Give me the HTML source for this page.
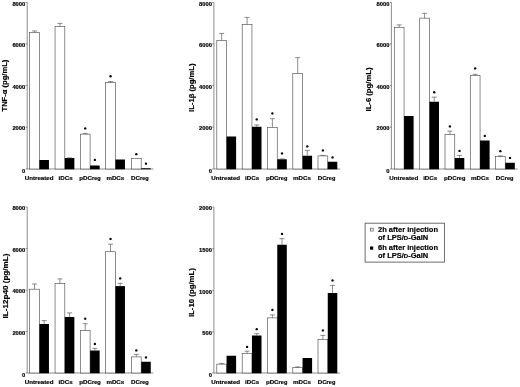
<!DOCTYPE html>
<html><head><meta charset="utf-8"><title>Cytokine levels</title>
<style>
html,body{margin:0;padding:0;background:#fff;}
body{width:520px;height:387px;overflow:hidden;}
svg{display:block;filter:blur(0.2px);font-family:"Liberation Sans",sans-serif;fill:#000;} text{stroke:#000;stroke-width:0.18px;}
</style></head><body>
<svg width="520" height="387" viewBox="0 0 520 387">
<rect width="520" height="387" fill="#fff"/>
<path d="M27.2,2.5 V169.0 H153.4" fill="none" stroke="#505050" stroke-width="0.65"/>
<path d="M25.599999999999998,2.5 H27.2" stroke="#505050" stroke-width="0.65"/>
<text x="25.3" y="5.75" text-anchor="end" font-size="5.8" font-weight="bold" stroke="none">8000</text>
<path d="M25.599999999999998,43.8 H27.2" stroke="#505050" stroke-width="0.65"/>
<text x="25.3" y="47.05" text-anchor="end" font-size="5.8" font-weight="bold" stroke="none">6000</text>
<path d="M25.599999999999998,85.6 H27.2" stroke="#505050" stroke-width="0.65"/>
<text x="25.3" y="88.85" text-anchor="end" font-size="5.8" font-weight="bold" stroke="none">4000</text>
<path d="M25.599999999999998,127.2 H27.2" stroke="#505050" stroke-width="0.65"/>
<text x="25.3" y="130.45" text-anchor="end" font-size="5.8" font-weight="bold" stroke="none">2000</text>
<path d="M25.599999999999998,169 H27.2" stroke="#505050" stroke-width="0.65"/>
<text x="25.3" y="172.6" text-anchor="end" font-size="5.8" font-weight="bold" stroke="none">0</text>
<text transform="translate(6.799999999999998,111.5) rotate(-90)" textLength="51.8" lengthAdjust="spacingAndGlyphs" font-size="7.6" font-weight="bold" stroke="none">TNF-α (pg/mL)</text>
<rect x="29.65" y="32.4" width="9.75" height="136.60" fill="#fff" stroke="#505050" stroke-width="0.65"/>
<path d="M34.52,32.4 V30.9 M32.02,30.9 H37.02" stroke="#505050" stroke-width="0.65" fill="none"/>
<rect x="39.40" y="160" width="9.55" height="9.30" fill="#000"/>
<rect x="55.05" y="26.4" width="9.75" height="142.60" fill="#fff" stroke="#505050" stroke-width="0.65"/>
<path d="M59.92,26.4 V23.4 M57.42,23.4 H62.42" stroke="#505050" stroke-width="0.65" fill="none"/>
<rect x="64.80" y="158" width="9.55" height="11.30" fill="#000"/>
<path d="M69.58,158 V157.9 M67.08,157.9 H72.08" stroke="#505050" stroke-width="0.65" fill="none"/>
<rect x="80.35" y="134.15" width="9.75" height="34.85" fill="#fff" stroke="#505050" stroke-width="0.65"/>
<path d="M85.22,134.15 V133.4 M82.72,133.4 H87.72" stroke="#505050" stroke-width="0.65" fill="none"/>
<circle cx="85.22" cy="128.4" r="1.18" fill="#000"/>
<rect x="90.10" y="165.5" width="9.55" height="3.80" fill="#000"/>
<circle cx="94.88" cy="159.9" r="1.18" fill="#000"/>
<rect x="105.65" y="82.60000000000001" width="9.75" height="86.40" fill="#fff" stroke="#505050" stroke-width="0.65"/>
<path d="M110.53,82.60000000000001 V81.60000000000001 M108.03,81.60000000000001 H113.03" stroke="#505050" stroke-width="0.65" fill="none"/>
<circle cx="110.53" cy="76.2" r="1.18" fill="#000"/>
<rect x="115.40" y="159.5" width="9.55" height="9.80" fill="#000"/>
<rect x="131.45" y="158.4" width="9.75" height="10.60" fill="#fff" stroke="#505050" stroke-width="0.65"/>
<circle cx="136.32" cy="154.15" r="1.18" fill="#000"/>
<rect x="141.20" y="168.25" width="9.55" height="1.05" fill="#000"/>
<circle cx="145.97" cy="163.65" r="1.18" fill="#000"/>
<text x="39.15" y="179.8" text-anchor="middle" font-size="6.2" font-weight="bold">Untreated</text>
<text x="65.55" y="179.8" text-anchor="middle" font-size="6.2" font-weight="bold">iDCs</text>
<text x="90.05" y="179.8" text-anchor="middle" font-size="6.2" font-weight="bold">pDC<tspan font-size="5.6">reg</tspan></text>
<text x="115.35" y="179.8" text-anchor="middle" font-size="6.2" font-weight="bold">mDCs</text>
<text x="139.95" y="179.8" text-anchor="middle" font-size="6.2" font-weight="bold">DC<tspan font-size="5.6">reg</tspan></text>
<path d="M213.9,2.5 V169.0 H340.1" fill="none" stroke="#505050" stroke-width="0.65"/>
<path d="M212.3,2.5 H213.9" stroke="#505050" stroke-width="0.65"/>
<text x="212.0" y="5.75" text-anchor="end" font-size="5.8" font-weight="bold" stroke="none">8000</text>
<path d="M212.3,43.8 H213.9" stroke="#505050" stroke-width="0.65"/>
<text x="212.0" y="47.05" text-anchor="end" font-size="5.8" font-weight="bold" stroke="none">6000</text>
<path d="M212.3,85.6 H213.9" stroke="#505050" stroke-width="0.65"/>
<text x="212.0" y="88.85" text-anchor="end" font-size="5.8" font-weight="bold" stroke="none">4000</text>
<path d="M212.3,127.2 H213.9" stroke="#505050" stroke-width="0.65"/>
<text x="212.0" y="130.45" text-anchor="end" font-size="5.8" font-weight="bold" stroke="none">2000</text>
<path d="M212.3,169 H213.9" stroke="#505050" stroke-width="0.65"/>
<text x="212.0" y="172.6" text-anchor="end" font-size="5.8" font-weight="bold" stroke="none">0</text>
<text transform="translate(193.8,111.9) rotate(-90)" textLength="48.4" lengthAdjust="spacingAndGlyphs" font-size="7.6" font-weight="bold" stroke="none">IL-1β (pg/mL)</text>
<rect x="216.80" y="40.4" width="9.75" height="128.60" fill="#fff" stroke="#505050" stroke-width="0.65"/>
<path d="M221.68,40.4 V33.4 M219.18,33.4 H224.18" stroke="#505050" stroke-width="0.65" fill="none"/>
<rect x="226.55" y="136.5" width="9.55" height="32.80" fill="#000"/>
<rect x="242.20" y="24.4" width="9.75" height="144.60" fill="#fff" stroke="#505050" stroke-width="0.65"/>
<path d="M247.08,24.4 V17.4 M244.58,17.4 H249.58" stroke="#505050" stroke-width="0.65" fill="none"/>
<rect x="251.95" y="126.75" width="9.55" height="42.55" fill="#000"/>
<path d="M256.73,126.75 V124.9 M254.23,124.9 H259.23" stroke="#505050" stroke-width="0.65" fill="none"/>
<circle cx="256.73" cy="119.4" r="1.18" fill="#000"/>
<rect x="267.50" y="127.4" width="9.75" height="41.60" fill="#fff" stroke="#505050" stroke-width="0.65"/>
<path d="M272.38,127.4 V118.65 M269.88,118.65 H274.88" stroke="#505050" stroke-width="0.65" fill="none"/>
<circle cx="272.38" cy="113.4" r="1.18" fill="#000"/>
<rect x="277.25" y="159.25" width="9.55" height="10.05" fill="#000"/>
<path d="M282.02,159.25 V158.9 M279.52,158.9 H284.52" stroke="#505050" stroke-width="0.65" fill="none"/>
<circle cx="282.02" cy="153.4" r="1.18" fill="#000"/>
<rect x="292.80" y="73.4" width="9.75" height="95.60" fill="#fff" stroke="#505050" stroke-width="0.65"/>
<path d="M297.68,73.4 V57.65 M295.18,57.65 H300.18" stroke="#505050" stroke-width="0.65" fill="none"/>
<rect x="302.55" y="155.75" width="9.55" height="13.55" fill="#000"/>
<path d="M307.32,155.75 V150.4 M304.82,150.4 H309.82" stroke="#505050" stroke-width="0.65" fill="none"/>
<circle cx="307.32" cy="146.4" r="1.18" fill="#000"/>
<rect x="318.00" y="155.9" width="9.75" height="13.10" fill="#fff" stroke="#505050" stroke-width="0.65"/>
<path d="M322.88,155.9 V155.4 M320.38,155.4 H325.38" stroke="#505050" stroke-width="0.65" fill="none"/>
<circle cx="322.88" cy="150.4" r="1.18" fill="#000"/>
<rect x="327.75" y="161.75" width="9.55" height="7.55" fill="#000"/>
<circle cx="332.52" cy="157.4" r="1.18" fill="#000"/>
<text x="225.70" y="179.8" text-anchor="middle" font-size="6.2" font-weight="bold">Untreated</text>
<text x="252.10" y="179.8" text-anchor="middle" font-size="6.2" font-weight="bold">iDCs</text>
<text x="276.60" y="179.8" text-anchor="middle" font-size="6.2" font-weight="bold">pDC<tspan font-size="5.6">reg</tspan></text>
<text x="301.90" y="179.8" text-anchor="middle" font-size="6.2" font-weight="bold">mDCs</text>
<text x="326.50" y="179.8" text-anchor="middle" font-size="6.2" font-weight="bold">DC<tspan font-size="5.6">reg</tspan></text>
<path d="M391.4,2.5 V169.0 H517.6" fill="none" stroke="#505050" stroke-width="0.65"/>
<path d="M389.79999999999995,2.5 H391.4" stroke="#505050" stroke-width="0.65"/>
<text x="389.5" y="5.75" text-anchor="end" font-size="5.8" font-weight="bold" stroke="none">8000</text>
<path d="M389.79999999999995,43.8 H391.4" stroke="#505050" stroke-width="0.65"/>
<text x="389.5" y="47.05" text-anchor="end" font-size="5.8" font-weight="bold" stroke="none">6000</text>
<path d="M389.79999999999995,85.6 H391.4" stroke="#505050" stroke-width="0.65"/>
<text x="389.5" y="88.85" text-anchor="end" font-size="5.8" font-weight="bold" stroke="none">4000</text>
<path d="M389.79999999999995,127.2 H391.4" stroke="#505050" stroke-width="0.65"/>
<text x="389.5" y="130.45" text-anchor="end" font-size="5.8" font-weight="bold" stroke="none">2000</text>
<path d="M389.79999999999995,169 H391.4" stroke="#505050" stroke-width="0.65"/>
<text x="389.5" y="172.6" text-anchor="end" font-size="5.8" font-weight="bold" stroke="none">0</text>
<text transform="translate(371.29999999999995,111.5) rotate(-90)" textLength="44.0" lengthAdjust="spacingAndGlyphs" font-size="7.6" font-weight="bold" stroke="none">IL-6 (pg/mL)</text>
<rect x="394.30" y="27.4" width="9.75" height="141.60" fill="#fff" stroke="#505050" stroke-width="0.65"/>
<path d="M399.17,27.4 V24.9 M396.67,24.9 H401.67" stroke="#505050" stroke-width="0.65" fill="none"/>
<rect x="404.05" y="116" width="9.55" height="53.30" fill="#000"/>
<rect x="419.70" y="18.15" width="9.75" height="150.85" fill="#fff" stroke="#505050" stroke-width="0.65"/>
<path d="M424.57,18.15 V13.4 M422.07,13.4 H427.07" stroke="#505050" stroke-width="0.65" fill="none"/>
<rect x="429.45" y="101.75" width="9.55" height="67.55" fill="#000"/>
<path d="M434.22,101.75 V97.15 M431.72,97.15 H436.72" stroke="#505050" stroke-width="0.65" fill="none"/>
<circle cx="434.22" cy="92.2" r="1.18" fill="#000"/>
<rect x="445.00" y="134.4" width="9.75" height="34.60" fill="#fff" stroke="#505050" stroke-width="0.65"/>
<path d="M449.88,134.4 V131.15 M447.38,131.15 H452.38" stroke="#505050" stroke-width="0.65" fill="none"/>
<circle cx="449.88" cy="126.4" r="1.18" fill="#000"/>
<rect x="454.75" y="158" width="9.55" height="11.30" fill="#000"/>
<path d="M459.52,158 V155.4 M457.02,155.4 H462.02" stroke="#505050" stroke-width="0.65" fill="none"/>
<circle cx="459.52" cy="150.9" r="1.18" fill="#000"/>
<rect x="470.30" y="75.4" width="9.75" height="93.60" fill="#fff" stroke="#505050" stroke-width="0.65"/>
<path d="M475.17,75.4 V74.30000000000001 M472.67,74.30000000000001 H477.67" stroke="#505050" stroke-width="0.65" fill="none"/>
<circle cx="475.17" cy="68.4" r="1.18" fill="#000"/>
<rect x="480.05" y="140.5" width="9.55" height="28.80" fill="#000"/>
<circle cx="484.82" cy="135.9" r="1.18" fill="#000"/>
<rect x="495.50" y="156.65" width="9.75" height="12.35" fill="#fff" stroke="#505050" stroke-width="0.65"/>
<path d="M500.38,156.65 V155.9 M497.88,155.9 H502.88" stroke="#505050" stroke-width="0.65" fill="none"/>
<circle cx="500.38" cy="151.15" r="1.18" fill="#000"/>
<rect x="505.25" y="162.75" width="9.55" height="6.55" fill="#000"/>
<circle cx="510.02" cy="157.9" r="1.18" fill="#000"/>
<text x="403.80" y="179.8" text-anchor="middle" font-size="6.2" font-weight="bold">Untreated</text>
<text x="430.20" y="179.8" text-anchor="middle" font-size="6.2" font-weight="bold">iDCs</text>
<text x="454.70" y="179.8" text-anchor="middle" font-size="6.2" font-weight="bold">pDC<tspan font-size="5.6">reg</tspan></text>
<text x="480.00" y="179.8" text-anchor="middle" font-size="6.2" font-weight="bold">mDCs</text>
<text x="504.60" y="179.8" text-anchor="middle" font-size="6.2" font-weight="bold">DC<tspan font-size="5.6">reg</tspan></text>
<path d="M27.2,207 V373.0 H153.4" fill="none" stroke="#505050" stroke-width="0.65"/>
<path d="M25.599999999999998,207 H27.2" stroke="#505050" stroke-width="0.65"/>
<text x="25.3" y="210.25" text-anchor="end" font-size="5.8" font-weight="bold" stroke="none">8000</text>
<path d="M25.599999999999998,248.5 H27.2" stroke="#505050" stroke-width="0.65"/>
<text x="25.3" y="251.75" text-anchor="end" font-size="5.8" font-weight="bold" stroke="none">6000</text>
<path d="M25.599999999999998,290.1 H27.2" stroke="#505050" stroke-width="0.65"/>
<text x="25.3" y="293.35" text-anchor="end" font-size="5.8" font-weight="bold" stroke="none">4000</text>
<path d="M25.599999999999998,331.5 H27.2" stroke="#505050" stroke-width="0.65"/>
<text x="25.3" y="334.75" text-anchor="end" font-size="5.8" font-weight="bold" stroke="none">2000</text>
<path d="M25.599999999999998,373 H27.2" stroke="#505050" stroke-width="0.65"/>
<text x="25.3" y="376.6" text-anchor="end" font-size="5.8" font-weight="bold" stroke="none">0</text>
<text transform="translate(7.599999999999998,318.4) rotate(-90)" textLength="64.8" lengthAdjust="spacingAndGlyphs" font-size="7.6" font-weight="bold" stroke="none">IL-12p40 (pg/mL)</text>
<rect x="29.65" y="289.2" width="9.75" height="83.80" fill="#fff" stroke="#505050" stroke-width="0.65"/>
<path d="M34.52,289.2 V284.0 M32.02,284.0 H37.02" stroke="#505050" stroke-width="0.65" fill="none"/>
<rect x="39.40" y="324" width="9.55" height="49.30" fill="#000"/>
<path d="M44.17,324 V320.59999999999997 M41.67,320.59999999999997 H46.67" stroke="#505050" stroke-width="0.65" fill="none"/>
<rect x="55.05" y="283.4" width="9.75" height="89.60" fill="#fff" stroke="#505050" stroke-width="0.65"/>
<path d="M59.92,283.4 V278.9 M57.42,278.9 H62.42" stroke="#505050" stroke-width="0.65" fill="none"/>
<rect x="64.80" y="317" width="9.55" height="56.30" fill="#000"/>
<path d="M69.58,317 V312.9 M67.08,312.9 H72.08" stroke="#505050" stroke-width="0.65" fill="none"/>
<rect x="80.35" y="330.4" width="9.75" height="42.60" fill="#fff" stroke="#505050" stroke-width="0.65"/>
<path d="M85.22,330.4 V323.65 M82.72,323.65 H87.72" stroke="#505050" stroke-width="0.65" fill="none"/>
<circle cx="85.22" cy="318.65" r="1.18" fill="#000"/>
<rect x="90.10" y="350.5" width="9.55" height="22.80" fill="#000"/>
<path d="M94.88,350.5 V348.4 M92.38,348.4 H97.38" stroke="#505050" stroke-width="0.65" fill="none"/>
<circle cx="94.88" cy="343.9" r="1.18" fill="#000"/>
<rect x="105.65" y="251.70000000000002" width="9.75" height="121.30" fill="#fff" stroke="#505050" stroke-width="0.65"/>
<path d="M110.53,251.70000000000002 V244.20000000000002 M108.03,244.20000000000002 H113.03" stroke="#505050" stroke-width="0.65" fill="none"/>
<circle cx="110.53" cy="238.9" r="1.18" fill="#000"/>
<rect x="115.40" y="286.1" width="9.55" height="87.20" fill="#000"/>
<path d="M120.18,286.1 V283.4 M117.68,283.4 H122.68" stroke="#505050" stroke-width="0.65" fill="none"/>
<circle cx="120.18" cy="278.4" r="1.18" fill="#000"/>
<rect x="131.45" y="356.9" width="9.75" height="16.10" fill="#fff" stroke="#505050" stroke-width="0.65"/>
<path d="M136.32,356.9 V354.4 M133.82,354.4 H138.82" stroke="#505050" stroke-width="0.65" fill="none"/>
<circle cx="136.32" cy="350.4" r="1.18" fill="#000"/>
<rect x="141.20" y="361.75" width="9.55" height="11.55" fill="#000"/>
<circle cx="145.97" cy="357.4" r="1.18" fill="#000"/>
<text x="39.15" y="383.8" text-anchor="middle" font-size="6.2" font-weight="bold">Untreated</text>
<text x="65.55" y="383.8" text-anchor="middle" font-size="6.2" font-weight="bold">iDCs</text>
<text x="90.05" y="383.8" text-anchor="middle" font-size="6.2" font-weight="bold">pDC<tspan font-size="5.6">reg</tspan></text>
<text x="115.35" y="383.8" text-anchor="middle" font-size="6.2" font-weight="bold">mDCs</text>
<text x="139.95" y="383.8" text-anchor="middle" font-size="6.2" font-weight="bold">DC<tspan font-size="5.6">reg</tspan></text>
<path d="M213.9,207 V373.0 H340.1" fill="none" stroke="#505050" stroke-width="0.65"/>
<path d="M212.3,207 H213.9" stroke="#505050" stroke-width="0.65"/>
<text x="212.0" y="210.25" text-anchor="end" font-size="5.8" font-weight="bold" stroke="none">2000</text>
<path d="M212.3,248.8 H213.9" stroke="#505050" stroke-width="0.65"/>
<text x="212.0" y="252.05" text-anchor="end" font-size="5.8" font-weight="bold" stroke="none">1500</text>
<path d="M212.3,290.7 H213.9" stroke="#505050" stroke-width="0.65"/>
<text x="212.0" y="293.95" text-anchor="end" font-size="5.8" font-weight="bold" stroke="none">1000</text>
<path d="M212.3,331.9 H213.9" stroke="#505050" stroke-width="0.65"/>
<text x="212.0" y="335.15" text-anchor="end" font-size="5.8" font-weight="bold" stroke="none">500</text>
<path d="M212.3,373 H213.9" stroke="#505050" stroke-width="0.65"/>
<text x="212.0" y="376.6" text-anchor="end" font-size="5.8" font-weight="bold" stroke="none">0</text>
<text transform="translate(194.0,317.1) rotate(-90)" textLength="49.0" lengthAdjust="spacingAndGlyphs" font-size="7.6" font-weight="bold" stroke="none">IL-10 (pg/mL)</text>
<rect x="216.80" y="364.15" width="9.75" height="8.85" fill="#fff" stroke="#505050" stroke-width="0.65"/>
<path d="M221.68,364.15 V363.4 M219.18,363.4 H224.18" stroke="#505050" stroke-width="0.65" fill="none"/>
<rect x="226.55" y="355.75" width="9.55" height="17.55" fill="#000"/>
<rect x="242.20" y="353.4" width="9.75" height="19.60" fill="#fff" stroke="#505050" stroke-width="0.65"/>
<path d="M247.08,353.4 V351.15 M244.58,351.15 H249.58" stroke="#505050" stroke-width="0.65" fill="none"/>
<circle cx="247.08" cy="346.9" r="1.18" fill="#000"/>
<rect x="251.95" y="335.5" width="9.55" height="37.80" fill="#000"/>
<path d="M256.73,335.5 V333.65 M254.23,333.65 H259.23" stroke="#505050" stroke-width="0.65" fill="none"/>
<circle cx="256.73" cy="329.15" r="1.18" fill="#000"/>
<rect x="267.50" y="317.9" width="9.75" height="55.10" fill="#fff" stroke="#505050" stroke-width="0.65"/>
<path d="M272.38,317.9 V314.9 M269.88,314.9 H274.88" stroke="#505050" stroke-width="0.65" fill="none"/>
<circle cx="272.38" cy="309.9" r="1.18" fill="#000"/>
<rect x="277.25" y="244.75" width="9.55" height="128.55" fill="#000"/>
<path d="M282.02,244.75 V238.65 M279.52,238.65 H284.52" stroke="#505050" stroke-width="0.65" fill="none"/>
<circle cx="282.02" cy="233.9" r="1.18" fill="#000"/>
<rect x="292.80" y="367.65" width="9.75" height="5.35" fill="#fff" stroke="#505050" stroke-width="0.65"/>
<path d="M297.68,367.65 V366.9 M295.18,366.9 H300.18" stroke="#505050" stroke-width="0.65" fill="none"/>
<rect x="302.55" y="358" width="9.55" height="15.30" fill="#000"/>
<rect x="318.00" y="339.65" width="9.75" height="33.35" fill="#fff" stroke="#505050" stroke-width="0.65"/>
<path d="M322.88,339.65 V335.4 M320.38,335.4 H325.38" stroke="#505050" stroke-width="0.65" fill="none"/>
<circle cx="322.88" cy="330.4" r="1.18" fill="#000"/>
<rect x="327.75" y="293" width="9.55" height="80.30" fill="#000"/>
<path d="M332.52,293 V285.4 M330.02,285.4 H335.02" stroke="#505050" stroke-width="0.65" fill="none"/>
<circle cx="332.52" cy="280.4" r="1.18" fill="#000"/>
<text x="225.70" y="383.8" text-anchor="middle" font-size="6.2" font-weight="bold">Untreated</text>
<text x="252.10" y="383.8" text-anchor="middle" font-size="6.2" font-weight="bold">iDCs</text>
<text x="276.60" y="383.8" text-anchor="middle" font-size="6.2" font-weight="bold">pDC<tspan font-size="5.6">reg</tspan></text>
<text x="301.90" y="383.8" text-anchor="middle" font-size="6.2" font-weight="bold">mDCs</text>
<text x="326.50" y="383.8" text-anchor="middle" font-size="6.2" font-weight="bold">DC<tspan font-size="5.6">reg</tspan></text>
<rect x="365.1" y="223.2" width="79.3" height="38.9" fill="#fff" stroke="#555" stroke-width="0.85"/>
<rect x="370.4" y="228.2" width="2.8" height="2.8" fill="#fff" stroke="#555" stroke-width="0.7"/>
<rect x="370" y="246.5" width="3.2" height="3.2" fill="#000"/>
<text x="378" y="232" font-size="7.5" font-weight="bold">2h after injection</text>
<text x="378" y="239.7" font-size="7.5" font-weight="bold">of LPS/<tspan font-size="6">D</tspan>-GalN</text>
<text x="378" y="250.3" font-size="7.5" font-weight="bold">6h after injection</text>
<text x="378" y="258.1" font-size="7.5" font-weight="bold">of LPS/<tspan font-size="6">D</tspan>-GalN</text>
</svg>
</body></html>
